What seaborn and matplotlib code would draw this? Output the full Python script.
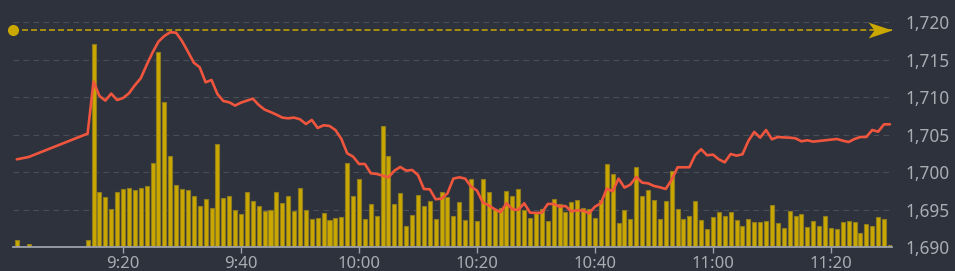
import numpy as np
import pandas as pd
import matplotlib
matplotlib.use("Agg")
import matplotlib.pyplot as plt
import seaborn as sns

# ---------------- data ----------------
# minutes after 09:00 at which trades happened (09:02, 09:04, then every minute 09:14 .. 11:30)
minutes = [2, 4] + list(range(14, 151))

# volume per minute (relative units)
volume = (
    [22, 10]
    + [22, 610, 167, 150, 116, 165]                                   # 9:14-9:19
    + [175, 177, 172, 178, 184, 252, 585, 435, 273, 186,
       174, 173, 153, 124, 146, 117, 310, 149, 154, 111]               # 9:20-9:39
    + [101, 167, 140, 123, 109, 113, 167, 133, 154, 109,
       177, 112, 85, 88, 102, 82, 88, 91, 252, 154]                    # 9:40-9:59
    + [206, 85, 129, 94, 363, 275, 129, 164, 63, 97,
       157, 125, 138, 84, 167, 150, 95, 136, 81, 206]                  # 10:00-10:19
    + [78, 204, 165, 114, 117, 168, 154, 175, 112, 88,
       104, 115, 79, 145, 131, 106, 137, 141, 117, 116]                # 10:20-10:39
    + [89, 142, 249, 220, 74, 111, 86, 240, 155, 172,
       141, 85, 140, 228, 114, 84, 93, 138, 82, 54]                    # 10:40-10:59
    + [90, 105, 93, 106, 83, 65, 84, 76, 76, 78,
       126, 74, 57, 109, 93, 101, 60, 78, 65, 93]                      # 11:00-11:19
    + [57, 54, 75, 79, 76, 43, 70, 64, 91, 85, 6]                      # 11:20-11:30
)

price = (
    [1701.73, 1702.04]
    + [1705.16, 1712.09, 1710.18, 1709.56, 1710.49, 1709.64]
    + [1709.90, 1710.53, 1711.60, 1712.53, 1714.30, 1715.96, 1717.42, 1718.18, 1718.67, 1718.62,
       1717.50, 1716.09, 1714.62, 1714.00, 1712.00, 1712.31, 1710.44, 1709.51, 1709.33, 1708.90]
    + [1709.29, 1709.56, 1709.82, 1708.98, 1708.36, 1708.04, 1707.69, 1707.29, 1707.20, 1707.29,
       1707.07, 1706.44, 1706.98, 1705.91, 1706.27, 1706.18, 1705.64, 1704.47, 1702.53, 1702.09]
    + [1701.11, 1701.11, 1699.87, 1699.78, 1699.56, 1699.33, 1700.22, 1700.71, 1700.22, 1700.31,
       1699.64, 1697.78, 1697.73, 1696.40, 1696.49, 1697.20, 1699.16, 1699.33, 1699.16, 1698.09]
    + [1697.56, 1695.96, 1695.60, 1695.07, 1694.67, 1695.87, 1695.07, 1694.98, 1695.87, 1694.62,
       1694.58, 1694.62, 1695.78, 1695.78, 1695.42, 1695.51, 1694.80, 1694.93, 1694.89, 1694.53]
    + [1695.42, 1695.87, 1697.82, 1697.47, 1699.16, 1697.96, 1698.36, 1699.38, 1698.62, 1698.53,
       1698.18, 1698.00, 1697.78, 1699.00, 1700.67, 1700.67, 1700.67, 1702.31, 1703.07, 1702.27]
    + [1702.36, 1701.73, 1701.33, 1702.44, 1702.22, 1702.40, 1704.18, 1705.38, 1704.62, 1705.64,
       1704.40, 1704.71, 1704.65, 1704.62, 1704.53, 1704.13, 1704.27, 1704.09, 1704.18, 1704.27]
    + [1704.36, 1704.44, 1704.22, 1704.04, 1704.44, 1704.71, 1704.71, 1705.64, 1705.42, 1706.40, 1706.40]
)

high_price = 1719.0

price_ticks = [1690, 1695, 1700, 1705, 1710, 1715, 1720]
price_tick_labels = ["1,690", "1,695", "1,700", "1,705", "1,710", "1,715", "1,720"]
time_ticks = [20, 40, 60, 80, 100, 120, 140]
time_tick_labels = ["9:20", "9:40", "10:00", "10:20", "10:40", "11:00", "11:20"]

assert len(minutes) == len(volume) == len(price)

df = pd.DataFrame({"minute": minutes, "volume": volume, "price": price})

# ---------------- style ----------------
BG = "#2e323c"
GOLD = "#cba800"
GOLD_EDGE = "#8f7c1c"
LINE = "#f0553e"
GRID = "#4a4e59"
TXT = "#a9acb3"
AXIS = "#9da1ab"

sns.set_style("dark")
plt.rcParams["font.family"] = ["Noto Sans", "DejaVu Sans"]

fig = plt.figure(figsize=(9.55, 2.71), dpi=100, facecolor=BG)
ax_vol = fig.add_axes([13 / 955, 23.7 / 271, (891.7 - 13) / 955, (247.3 - 22.3) / 271])
ax_vol.set_facecolor(BG)

x_min, x_max = 1.35, 150.3  # minutes after 9:00 (9:01 .. 11:30)

vol_top = 675.0
p_lo, p_hi = 1690, 1720

# volume bars
sns.barplot(data=df, x="minute", y="volume", native_scale=True, ax=ax_vol,
            color=GOLD, saturation=1, errorbar=None, width=0.68,
            edgecolor=GOLD_EDGE, linewidth=0.8)
ax_vol.set_ylim(0, vol_top)
ax_vol.set_yticks(np.linspace(0, vol_top, len(price_ticks)))
ax_vol.set_yticklabels([])
ax_vol.tick_params(axis="y", length=0)
ax_vol.set_axisbelow(True)
ax_vol.grid(axis="y", color=GRID, linestyle=(0, (5, 4)), linewidth=0.8)
ax_vol.grid(axis="x", visible=False)
ax_vol.set_xlabel("")
ax_vol.set_ylabel("")
for s in ["top", "left", "right"]:
    ax_vol.spines[s].set_visible(False)
ax_vol.spines["bottom"].set_color(AXIS)
ax_vol.spines["bottom"].set_linewidth(1.3)
ax_vol.set_xticks(time_ticks)
ax_vol.set_xticklabels(time_tick_labels)
ax_vol.tick_params(axis="x", length=4.3, width=1, color=AXIS, pad=2.2,
                   labelsize=12, labelcolor=TXT, direction="out", bottom=True)

# price line on twin axis
ax_p = ax_vol.twinx()
sns.lineplot(data=df, x="minute", y="price", ax=ax_p, color=LINE, linewidth=1.9,
             sort=True, estimator=None)
ax_p.set_ylim(p_lo, p_hi)
ax_p.set_yticks(price_ticks)
ax_p.set_yticklabels(price_tick_labels)
ax_p.tick_params(axis="y", length=0, pad=9.6, labelsize=12.4, labelcolor=TXT)
ax_p.set_xlabel("")
ax_p.set_ylabel("")
ax_p.grid(False)
for s in ["top", "left", "right", "bottom"]:
    ax_p.spines[s].set_visible(False)

ax_vol.set_xlim(x_min, x_max)
ax_p.set_xlim(x_min, x_max)

# high-price dashed line with dot and arrow
ax_p.plot([x_min, x_max], [high_price, high_price], color=GOLD,
          linestyle=(0, (3.9, 2.0)), linewidth=1.1, clip_on=False, zorder=4)
ax_p.plot([x_min], [high_price], marker="o", markersize=8, color=GOLD,
          markeredgewidth=0, clip_on=False, zorder=5)
arrow_verts = [(0, 0), (-24, 8), (-18, 0), (-24, -8), (0, 0)]
ax_p.plot([x_max], [high_price], marker=arrow_verts, markersize=34.5, color=GOLD,
          markeredgewidth=0, clip_on=False, zorder=5)

fig.savefig("out.png", dpi=100, facecolor=BG)
